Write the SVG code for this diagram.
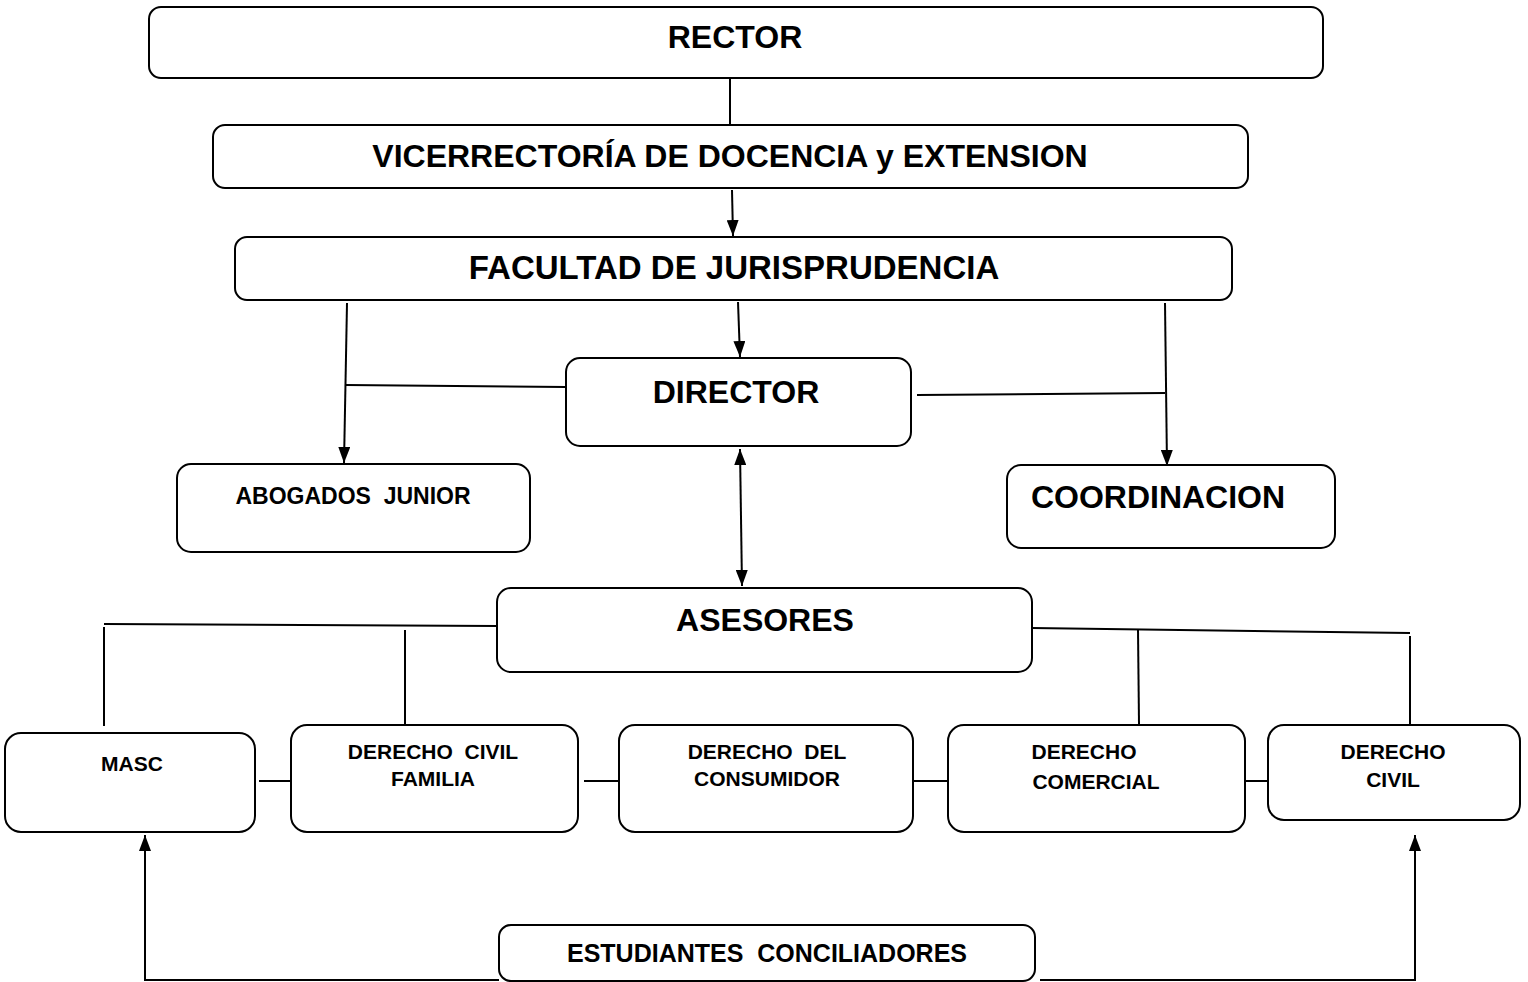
<svg xmlns="http://www.w3.org/2000/svg" width="1528" height="982" viewBox="0 0 1528 982">
<style>
.box{fill:#fff;stroke:#000;stroke-width:2}
.t{font-family:"Liberation Sans",Arial,sans-serif;font-weight:bold;fill:#000;text-anchor:middle}
.big{font-size:32px}
.mid{font-size:23px}
.sm{font-size:21px}
.ln{stroke:#000;stroke-width:2;fill:none}
.ar{stroke:#000;stroke-width:2;fill:none;marker-end:url(#ah)}
.ar2{stroke:#000;stroke-width:2;fill:none;marker-end:url(#ah);marker-start:url(#ahs)}
</style>
<defs>
<marker id="ah" viewBox="0 0 16 12" refX="16" refY="6" markerWidth="16" markerHeight="12" markerUnits="userSpaceOnUse" orient="auto"><path d="M0,0 L16,6 L0,12 z" fill="#000"/></marker>
<marker id="ahs" viewBox="0 0 16 12" refX="0" refY="6" markerWidth="16" markerHeight="12" markerUnits="userSpaceOnUse" orient="auto"><path d="M16,0 L0,6 L16,12 z" fill="#000"/></marker>
</defs>
<rect width="1528" height="982" fill="#fff"/>
<g id="connectors">
<line class="ln" x1="730" y1="79" x2="730" y2="124"/>
<line class="ar" x1="732" y1="190" x2="733" y2="236"/>
<line class="ar" x1="738" y1="302" x2="740" y2="357"/>
<line class="ar" x1="347" y1="303" x2="344" y2="463"/>
<line class="ar" x1="1165" y1="303" x2="1167" y2="466"/>
<line class="ln" x1="566" y1="387" x2="346" y2="385"/>
<line class="ln" x1="917" y1="395" x2="1165" y2="393"/>
<line class="ar2" x1="740" y1="449" x2="742" y2="586"/>
<line class="ln" x1="497" y1="626" x2="104" y2="624"/>
<line class="ln" x1="104" y1="627" x2="104" y2="726"/>
<line class="ln" x1="405" y1="630" x2="405" y2="724"/>
<line class="ln" x1="1032" y1="628" x2="1410" y2="633"/>
<line class="ln" x1="1138" y1="630" x2="1139" y2="724"/>
<line class="ln" x1="1410" y1="636" x2="1410" y2="724"/>
<line class="ln" x1="259" y1="781" x2="294" y2="781"/>
<line class="ln" x1="584" y1="781" x2="619" y2="781"/>
<line class="ln" x1="913" y1="781" x2="948" y2="781"/>
<line class="ln" x1="1245" y1="781" x2="1268" y2="781"/>
<polyline class="ar" points="499,980 145,980 145,835"/>
<polyline class="ar" points="1040,980 1415,980 1415,835"/>
</g>
<g id="rector"><rect class="box" x="149" y="7" width="1174" height="71" rx="12"/><text class="t big" x="735" y="48">RECTOR</text></g>
<g id="vicerrectoria"><rect class="box" x="213" y="125" width="1035" height="63" rx="12"/><text class="t big" x="730" y="167">VICERRECTORÍA DE DOCENCIA y EXTENSION</text></g>
<g id="facultad"><rect class="box" x="235" y="237" width="997" height="63" rx="12"/><text class="t" style="font-size:33px" x="734" y="279">FACULTAD DE JURISPRUDENCIA</text></g>
<g id="director"><rect class="box" x="566" y="358" width="345" height="88" rx="14"/><text class="t big" x="736" y="403">DIRECTOR</text></g>
<g id="abogados"><rect class="box" x="177" y="464" width="353" height="88" rx="14"/><text class="t mid" x="353" y="504" xml:space="preserve">ABOGADOS  JUNIOR</text></g>
<g id="coordinacion"><rect class="box" x="1007" y="465" width="328" height="83" rx="14"/><text class="t big" x="1158" y="508">COORDINACION</text></g>
<g id="asesores"><rect class="box" x="497" y="588" width="535" height="84" rx="14"/><text class="t big" x="765" y="631">ASESORES</text></g>
<g id="masc"><rect class="box" x="5" y="733" width="250" height="99" rx="16"/><text class="t sm" x="132" y="771">MASC</text></g>
<g id="civil-familia"><rect class="box" x="291" y="725" width="287" height="107" rx="16"/><text class="t sm" x="433" y="759" xml:space="preserve">DERECHO  CIVIL</text><text class="t sm" x="433" y="786">FAMILIA</text></g>
<g id="consumidor"><rect class="box" x="619" y="725" width="294" height="107" rx="16"/><text class="t sm" x="767" y="759" xml:space="preserve">DERECHO  DEL</text><text class="t sm" x="767" y="786">CONSUMIDOR</text></g>
<g id="comercial"><rect class="box" x="948" y="725" width="297" height="107" rx="16"/><text class="t sm" x="1084" y="759">DERECHO</text><text class="t sm" x="1096" y="789">COMERCIAL</text></g>
<g id="civil"><rect class="box" x="1268" y="725" width="252" height="95" rx="16"/><text class="t sm" x="1393" y="759">DERECHO</text><text class="t sm" x="1393" y="787">CIVIL</text></g>
<g id="estudiantes"><rect class="box" x="499" y="925" width="536" height="56" rx="12"/><text class="t" style="font-size:25px" x="767" y="962" xml:space="preserve">ESTUDIANTES  CONCILIADORES</text></g>
</svg>
